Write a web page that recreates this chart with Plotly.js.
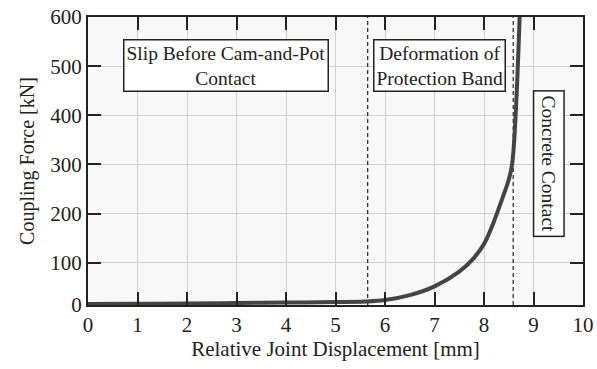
<!DOCTYPE html>
<html>
<head>
<meta charset="utf-8">
<script src="https://cdn.plot.ly/plotly-3.0.1.min.js"></script>
<style>html,body{margin:0;padding:0;background:#fff}#chart{width:597px;height:369px}</style>
</head>
<body>
<div id="chart"></div>
<script>
// Curve (y in the chart's own axis frame)
const displacement = [0, 1, 2, 3, 4, 5, 5.6, 6, 6.5, 7, 7.5, 7.78, 8, 8.19, 8.36, 8.5, 8.57, 8.72];
const force = [16, 16.5, 17, 18, 19, 20, 21, 24, 34, 52, 82, 108, 138, 181, 228, 269, 302, 600];

// Region boundaries (dashed lines)
const boundaries = [5.65, 8.59];

// Region labels
const regionLabels = ["Slip Before Cam-and-Pot<br>Contact", "Deformation of<br>Protection Band", "Concrete Contact"];
const regionX = [2.78, 7.1, 9.3];
const regionY = [501, 501, 302];

// Axis ticks
const xTickVals = [0, 1, 2, 3, 4, 5, 6, 7, 8, 9, 10];
const xTickText = ["0", "1", "2", "3", "4", "5", "6", "7", "8", "9", "10"];
const yTickVals = [14, 100, 200, 300, 400, 500, 600];
const yTickText = ["0", "100", "200", "300", "400", "500", "600"];

const FONT = "Liberation Serif, Times New Roman, serif";
const traces = [];
boundaries.forEach(b => {
  traces.push({x: [b, b], y: [14, 600], mode: "lines", line: {color: "#222", width: 1.2, dash: "4px,3px"}, hoverinfo: "skip", showlegend: false});
});
traces.push({x: displacement, y: force, mode: "lines", line: {color: "#444", width: 4, shape: "spline", smoothing: 1}, showlegend: false});

const annotations = regionLabels.map((t, i) => ({
  x: regionX[i], y: regionY[i], xref: "x", yref: "y", text: t, showarrow: false,
  textangle: i === 2 ? 90 : 0,
  font: {family: FONT, size: 19.5, color: "#222"},
  bgcolor: "#fff", bordercolor: "#222", borderwidth: 1.5, borderpad: i === 2 ? 4 : 2
}));

const axisCommon = {
  showline: true, linecolor: "#222", linewidth: 2, mirror: "ticks",
  ticks: "inside", ticklen: 13, tickwidth: 2, tickcolor: "#222",
  showgrid: true, gridcolor: "#cfcfcf", gridwidth: 1, zeroline: false,
  tickfont: {family: FONT, size: 21, color: "#222"}
};

const layout = {
  width: 597, height: 369,
  margin: {l: 88, r: 14, t: 17, b: 64},
  paper_bgcolor: "#fff", plot_bgcolor: "#f8f8f8",
  xaxis: Object.assign({}, axisCommon, {range: [0, 10], tickvals: xTickVals, ticktext: xTickText,
    title: {text: "Relative Joint Displacement [mm]", font: {family: FONT, size: 21, color: "#222"}, standoff: 2}}),
  yaxis: Object.assign({}, axisCommon, {range: [14, 600], tickvals: yTickVals, ticktext: yTickText,
    title: {text: "Coupling Force [kN]", font: {family: FONT, size: 20, color: "#222"}, standoff: 10}}),
  annotations: annotations,
  showlegend: false
};

Plotly.newPlot("chart", traces, layout, {displayModeBar: false, staticPlot: true});
</script>
</body>
</html>
